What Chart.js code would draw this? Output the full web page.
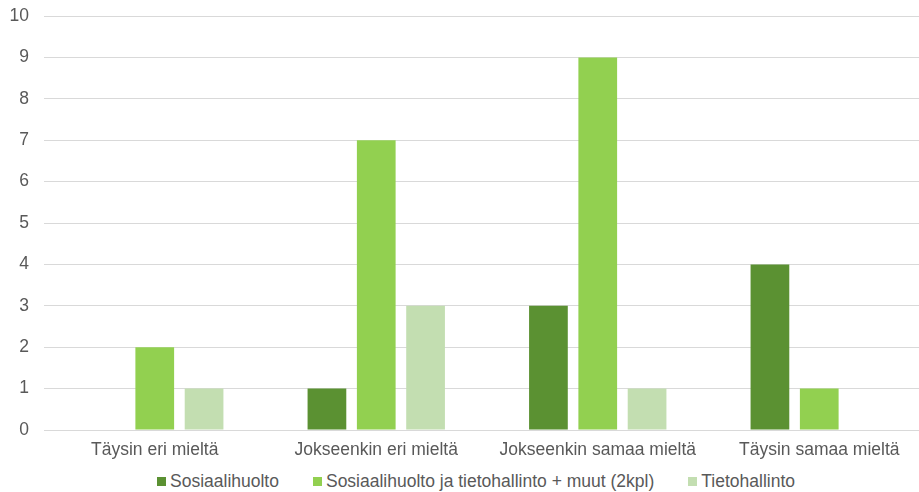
<!DOCTYPE html>
<html>
<head>
<meta charset="utf-8">
<script src="https://cdn.jsdelivr.net/npm/chart.js@4/dist/chart.umd.min.js"></script>
<style>
  html, body { margin: 0; padding: 0; background: #fff; overflow: hidden; }
  /* plot area runs a bit past the right edge of the page */
  #wrap { width: 930px; height: 470px; }
  #legend {
    display: flex; justify-content: center; align-items: center;
    width: 919px; height: 22px; padding-left: 33px; box-sizing: border-box;
    font: 17.5px 'Liberation Sans', Arial, sans-serif; color: #595959;
  }
  #legend span { display: inline-flex; align-items: center; margin: 0 17px; white-space: nowrap; }
  #legend i { display: inline-block; width: 9px; height: 9px; margin-right: 4px; }
</style>
</head>
<body>
<div id="wrap"><canvas id="AnswerChart"></canvas></div>
<div id="legend"></div>
<script>
// answer categories
const categories = ["Täysin eri mieltä", "Jokseenkin eri mieltä", "Jokseenkin samaa mieltä", "Täysin samaa mieltä"];

// answers per group (0 shows as no bar)
const sosiaalihuolto = [0, 1, 3, 4];
const sosiaalihuoltoJaTieto = [2, 7, 9, 1];
const tietohallinto = [1, 3, 1, 0];

const yTicks = [0, 1, 2, 3, 4, 5, 6, 7, 8, 9, 10];

Chart.defaults.font.family = "'Liberation Sans', Arial, sans-serif";
Chart.defaults.font.size = 17.5;
Chart.defaults.color = "#595959";

const ctx = document.getElementById("AnswerChart").getContext("2d");

const chart = new Chart(ctx, {
    type: "bar",
    data: {
        labels: categories,
        datasets: [
            { label: "Sosiaalihuolto", data: sosiaalihuolto, backgroundColor: "#5b9132" },
            { label: "Sosiaalihuolto ja tietohallinto + muut (2kpl)", data: sosiaalihuoltoJaTieto, backgroundColor: "#92d050" },
            { label: "Tietohallinto", data: tietohallinto, backgroundColor: "#c3deb1" }
        ]
    },
    options: {
        responsive: true,
        maintainAspectRatio: false,
        animation: false,
        layout: { padding: { top: 16, right: 0, left: 0, bottom: 7 } },
        datasets: { bar: { categoryPercentage: 0.668, barPercentage: 0.785 } },
        plugins: {
            tooltip: { enabled: false },
            legend: { display: false }
        },
        scales: {
            y: {
                min: 0,
                max: 10,
                afterBuildTicks: axis => { axis.ticks = yTicks.map(v => ({ value: v })); },
                afterFit: axis => {
                    axis.width = 44;
                    axis.paddingTop = 0;
                },
                grid: { color: "#d9d9d9", drawTicks: false },
                border: { display: false },
                ticks: { padding: 15 }
            },
            x: {
                grid: { display: false },
                border: { color: "#d9d9d9" },
                ticks: { padding: 2 }
            }
        }
    }
});

// html legend under the canvas
const legend = document.getElementById("legend");
chart.data.datasets.forEach(ds => {
    const item = document.createElement("span");
    const box = document.createElement("i");
    box.style.background = ds.backgroundColor;
    item.appendChild(box);
    item.appendChild(document.createTextNode(ds.label));
    legend.appendChild(item);
});
</script>
</body>
</html>
